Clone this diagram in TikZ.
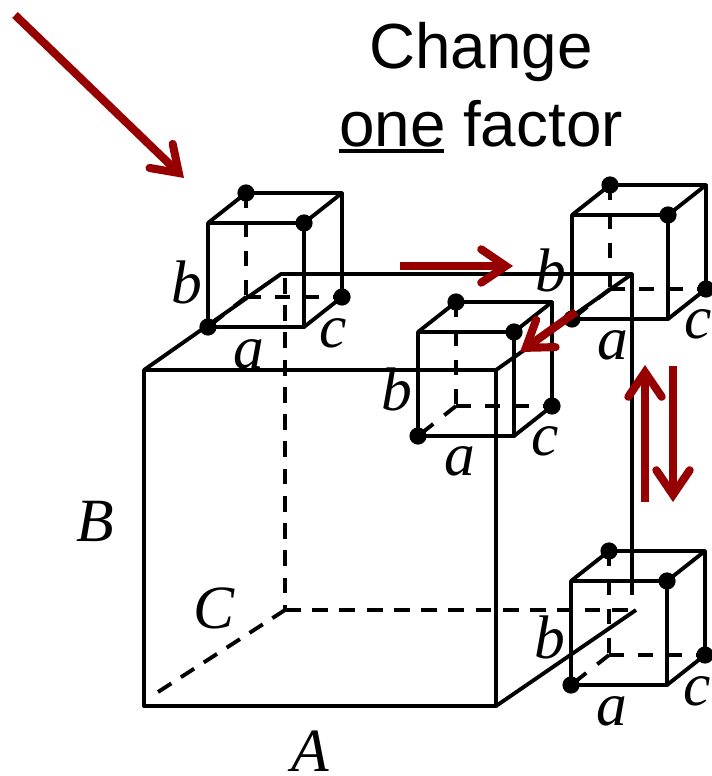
\documentclass[tikz,border=0pt]{standalone}
\usepackage{fontspec}
\setmainfont{Liberation Sans}
\newfontfamily\labelfont{Liberation Serif}
\usetikzlibrary{arrows.meta}
\definecolor{arrowred}{RGB}{150,0,0}
\tikzset{
  edge/.style={line width=2.2pt,line join=round},
  hidden/.style={edge,dash pattern=on 8.5pt off 8pt},
  bighidden/.style={edge,dash pattern=on 9pt off 6.5pt},
  corner/.style={fill,circle,minimum size=9.8pt,inner sep=0pt},
  move/.style={line width=4.6pt,arrowred,-{Straight Barb[length=14pt,width=19pt,line cap=round,line join=miter]}},
  letter/.style={font=\fontsize{35}{35}\selectfont\labelfont\itshape,anchor=base,inner sep=0pt},
  title/.style={font=\fontsize{36.3}{36}\selectfont,anchor=base,inner sep=0pt}
}
\begin{document}
\begin{tikzpicture}[x=0.02cm,y=-0.02cm]
\useasboundingbox (0,0) rectangle (711,776);
% large cube
\coordinate (FTL) at (144,370); \coordinate (FTR) at (496,370); \coordinate (FBR) at (496,706); \coordinate (FBL) at (144,706);
\coordinate (BTL) at (281,274); \coordinate (BTR) at (632,274); \coordinate (BBL) at (285,610); \coordinate (BBR) at (636,610);
\coordinate (BLtop) at (285,278); \coordinate (BRend) at (632,595); \coordinate (BLend) at (158,692);
\draw[edge] (FTL)--(FTR)--(FBR)--(FBL)--cycle;
\draw[edge] (FTL)--(BTL)--(BTR)--(FTR); \draw[edge] (BTR)--(BRend); \draw[edge] (FBR)--(BBR);
\draw[bighidden] (BLtop)--(BBL); \draw[bighidden] (BBL)--(BBR); \draw[bighidden] (BLend)--(BBL);
% small cubes
\foreach \cn/\cx/\cy in {P/208/327,Q/572/319,R/418/436,S/571/685}{
  \begin{scope}[shift={(\cx,\cy)}]
  \coordinate (\cn a) at (0,0); \coordinate (\cn b) at (96,0); \coordinate (\cn c) at (96,-104); \coordinate (\cn d) at (0,-104);
  \coordinate (\cn e) at (38,-30); \coordinate (\cn f) at (134,-30); \coordinate (\cn g) at (134,-134); \coordinate (\cn h) at (38,-134);
  \draw[edge] (\cn a)--(\cn b)--(\cn c)--(\cn d)--cycle;
  \draw[edge] (\cn d)--(\cn h)--(\cn g)--(\cn c); \draw[edge] (\cn g)--(\cn f)--(\cn b);
  \draw[hidden] (\cn h)--(\cn e); \draw[hidden] (\cn e)--(\cn f); \draw[hidden] (\cn e)--(\cn a);
  \node[corner] (\cn1) at (\cn a) {}; \node[corner] (\cn2) at (\cn c) {};
  \node[corner] (\cn3) at (\cn f) {}; \node[corner] (\cn4) at (\cn h) {};
  \end{scope}
}
% labels
\node[title] (change) at (481,69) {Change};
\node[title] (onefactor) at (481,147) {one factor};
\coordinate (ul1) at (339,151); \coordinate (ul2) at (444,151);
\draw[edge] (ul1)--(ul2);
\node[letter] (bigA) at (310,771) {A}; \node[letter] (bigB) at (95,541) {B}; \node[letter] (bigC) at (214,628) {C};
\foreach \ln/\bx/\by/\ax/\ay/\kx/\ky in {P/187/303/249/368/333/347,Q/551/292/613/359/698/338,R/397/410/460/475/545/455,S/550/658/612/725/697/705}{
  \node[letter] (\ln lb) at (\bx,\by) {b}; \node[letter] (\ln la) at (\ax,\ay) {a}; \node[letter] (\ln lc) at (\kx,\ky) {c};
}
% moves
\coordinate (m1s) at (15,15); \coordinate (m1e) at (184,178);
\coordinate (m2s) at (400,266); \coordinate (m2e) at (513,266);
\coordinate (m3s) at (576,312); \coordinate (m3e) at (520,352);
\coordinate (m4s) at (645,502); \coordinate (m4e) at (645,365);
\coordinate (m5s) at (673,366); \coordinate (m5e) at (673,502);
\foreach \m in {1,...,5}{ \draw[move] (m\m s)--(m\m e); }
\end{tikzpicture}
\end{document}
